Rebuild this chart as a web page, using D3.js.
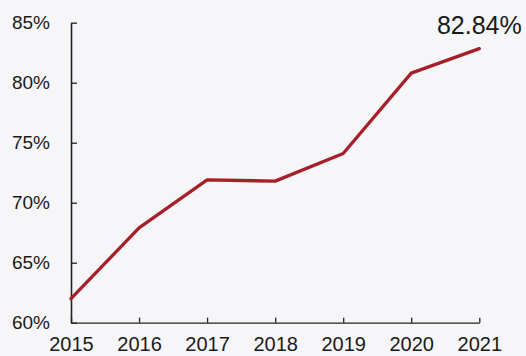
<!DOCTYPE html>
<html>
<head>
<meta charset="utf-8">
<script src="https://cdn.jsdelivr.net/npm/d3@7/dist/d3.min.js"></script>
<style>
  html, body { margin: 0; padding: 0; background: #f6f6f8; }
  svg { display: block; }
  text { font-family: "Liberation Sans", Arial, Helvetica, sans-serif; fill: #1a1a1a; }
</style>
</head>
<body>
<script>
// Share by year (%)
const years = [2015, 2016, 2017, 2018, 2019, 2020, 2021];
const shares = [62.0, 67.9, 71.9, 71.8, 74.1, 80.8, 82.84];
const yTicks = [60, 65, 70, 75, 80, 85];
const endLabel = "82.84%";

const W = 526, H = 356;
const margin = { left: 71, right: 46.7, top: 22.7, bottom: 33.3 };

const svg = d3.select("body").append("svg")
  .attr("width", W).attr("height", H);

const x = d3.scaleLinear()
  .domain([years[0], years[years.length - 1]])
  .range([margin.left, W - margin.right]);

const y = d3.scaleLinear()
  .domain([60, 85])
  .range([H - margin.bottom, margin.top]);

const axisColor = "#222";

// y axis: ticks point inward
const gy = svg.append("g")
  .attr("transform", `translate(${margin.left},0)`)
  .call(d3.axisLeft(y)
    .tickValues(yTicks)
    .tickFormat(d => d + "%")
    .tickSizeInner(-6)
    .tickSizeOuter(0)
    .tickPadding(21));
gy.select(".domain").attr("stroke", axisColor).attr("stroke-width", 1.6);
gy.selectAll(".tick line").attr("stroke", axisColor).attr("stroke-width", 1.3);
gy.selectAll(".tick text").attr("font-size", 19).attr("fill", "#1a1a1a");

// x axis: ticks point inward
const gx = svg.append("g")
  .attr("transform", `translate(0,${H - margin.bottom})`)
  .call(d3.axisBottom(x)
    .tickValues(years)
    .tickFormat(d3.format("d"))
    .tickSizeInner(-5)
    .tickSizeOuter(0)
    .tickPadding(14));
gx.select(".domain").attr("stroke", axisColor).attr("stroke-width", 1.3);
gx.selectAll(".tick line").attr("stroke", axisColor).attr("stroke-width", 1.3);
gx.selectAll(".tick text").attr("font-size", 20).attr("fill", "#1a1a1a");

// trend line
const line = d3.line()
  .x((d, i) => x(years[i]))
  .y(d => y(d));

svg.append("path")
  .datum(shares)
  .attr("d", line)
  .attr("fill", "none")
  .attr("stroke", "#a6202a")
  .attr("stroke-width", 3.3)
  .attr("stroke-linejoin", "round")
  .attr("stroke-linecap", "round");

// value label at the last point
const last = shares.length - 1;
svg.append("text")
  .attr("x", x(years[last]))
  .attr("y", y(shares[last]) - 14.3)
  .attr("text-anchor", "middle")
  .attr("font-size", 25)
  .text(endLabel);
</script>
</body>
</html>
